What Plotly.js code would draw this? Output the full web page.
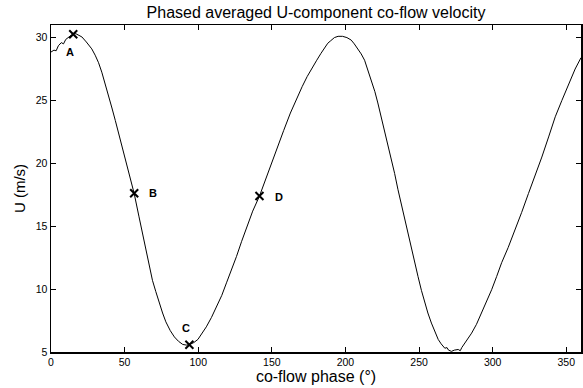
<!DOCTYPE html>
<html>
<head>
<meta charset="utf-8">
<script src="https://cdn.plot.ly/plotly-3.0.1.min.js"></script>
<style>
  html, body { margin: 0; padding: 0; background: #fff; }
  #chart { width: 583px; height: 388px; }
</style>
</head>
<body>
<div id="chart"></div>
<script>
// Phase-averaged U-component co-flow velocity
const phaseDeg = [0, 2, 3.5, 5, 7, 8.5, 10, 12.5, 15, 17, 19, 21, 24, 27.7, 30, 32.3, 34.5, 36.8, 39, 41.4,
  43.7, 46, 48.8, 51.7, 54, 56.5, 59.7, 62, 64.3, 66.6, 68.9, 71.2, 73.5, 75.8, 78, 81, 83.8, 86.6,
  89.5, 92, 94, 97, 99.8, 102.6, 105.5, 109, 112.4, 116, 119.2, 122.6, 126, 129.5, 133, 137, 141.6,
  145, 149, 153.5, 158, 162.6, 167.3, 170.6, 174, 177, 180.5, 183.4, 186, 188, 190, 192.5, 195, 198,
  201, 203.9, 206, 208.4, 210.7, 213, 215, 217.5, 220, 222, 224.3, 226.6, 228.9, 231.1, 233.4, 235.7,
  238, 240.2, 242.5, 244.8, 247, 249.3, 251.6, 253.9, 256, 258.4, 260.7, 263, 265, 267.5, 269, 270,
  272, 274, 276.6, 278, 279, 281.1, 283.4, 285.7, 289, 292.5, 296, 299.3, 302.7, 306.1, 310.5, 315.2,
  319.7, 324.3, 328.8, 333.4, 338, 342.5, 347, 351.6, 356, 360];
const velocityU = [28.85, 29.0, 28.95, 29.35, 29.6, 29.5, 29.85, 30.05, 30.3, 30.3, 30.2, 30.05, 29.65, 29.1, 28.6, 28.0, 27.25, 26.35, 25.4, 24.4,
  23.4, 22.4, 21.1, 19.7, 18.7, 17.6, 15.8, 14.5, 13.1, 11.9, 10.7, 9.8, 8.9, 8.1, 7.4, 6.7, 6.2, 5.85,
  5.6, 5.55, 5.6, 5.75, 6.0, 6.45, 7.0, 7.75, 8.6, 9.5, 10.5, 11.5, 12.6, 13.8, 15.0, 16.2, 17.4,
  18.5, 19.7, 21.1, 22.6, 24.0, 25.3, 26.1, 26.9, 27.55, 28.2, 28.75, 29.2, 29.55, 29.75, 30.0, 30.1, 30.1,
  30.0, 29.8, 29.5, 29.1, 28.7, 28.2, 27.5, 26.6, 25.7, 24.8, 23.7, 22.6, 21.6, 20.5, 19.2, 17.9,
  16.7, 15.5, 14.3, 13.1, 12.0, 11.0, 9.9, 8.9, 8.1, 7.3, 6.6, 6.0, 5.65, 5.3, 5.35, 5.15,
  5.05, 5.15, 5.2, 5.1, 5.35, 5.7, 6.05, 6.5, 7.2, 8.1, 9.0, 9.95, 11.0, 12.1, 13.3, 14.7,
  16.1, 17.6, 19.0, 20.5, 22.1, 23.7, 25.0, 26.35, 27.5, 28.4];

// Marked phases
const pointLabels = ["A", "B", "C", "D"];
const pointPhase = [15.1, 56.5, 94.0, 141.6];
const pointU = [30.26, 17.62, 5.58, 17.41];

// Tick values
const xTicks = [0, 50, 100, 150, 200, 250, 300, 350];
const yTicks = [5, 10, 15, 20, 25, 30];

// label offsets in pixels (style)
const labelShift = [[-3, -18], [19, 0], [-3, 17], [20, -1]];

const FONT = "Liberation Sans, Arial, Helvetica, sans-serif";

const traces = [
  {
    x: phaseDeg, y: velocityU, type: "scatter", mode: "lines",
    line: { color: "#000", width: 1 }, hoverinfo: "skip", showlegend: false
  },
  {
    x: pointPhase, y: pointU, type: "scatter", mode: "markers",
    marker: { symbol: "x-thin", size: 8, color: "#000", line: { color: "#000", width: 2 } },
    showlegend: false, hoverinfo: "skip"
  }
];

const annotations = pointLabels.map((t, i) => ({
  x: pointPhase[i], y: pointU[i], xref: "x", yref: "y",
  text: "<b>" + t + "</b>", showarrow: false,
  xshift: labelShift[i][0], yshift: labelShift[i][1],
  font: { family: FONT, size: 11, color: "#000" }
}));

const axisCommon = {
  showgrid: false, zeroline: false,
  showline: true, linecolor: "#000", linewidth: 1.5, mirror: "ticks",
  ticks: "inside", ticklen: 5, tickwidth: 1, tickcolor: "#000",
  tickfont: { family: FONT, size: 10.5, color: "#000" }
};

const layout = {
  width: 583, height: 388,
  paper_bgcolor: "#fff", plot_bgcolor: "#fff",
  margin: { l: 51, r: 2, t: 25, b: 36 },
  title: {
    text: "Phased averaged U-component co-flow velocity",
    font: { family: FONT, size: 16, color: "#000" },
    x: 0.5, xref: "paper", y: 1 - 12 / 388, yanchor: "middle"
  },
  xaxis: Object.assign({}, axisCommon, {
    range: [0, 360], tickvals: xTicks, ticktext: xTicks.map(String),
    title: { text: "co-flow phase (°)", font: { family: FONT, size: 16, color: "#000" }, standoff: 2 }
  }),
  yaxis: Object.assign({}, axisCommon, {
    range: [5, 31], tickvals: yTicks, ticktext: yTicks.map(String),
    title: { text: "U (m/s)", font: { family: FONT, size: 15, color: "#000" }, standoff: 6 }
  }),
  annotations: annotations
};

Plotly.newPlot("chart", traces, layout, { displayModeBar: false, staticPlot: true });
</script>
</body>
</html>
